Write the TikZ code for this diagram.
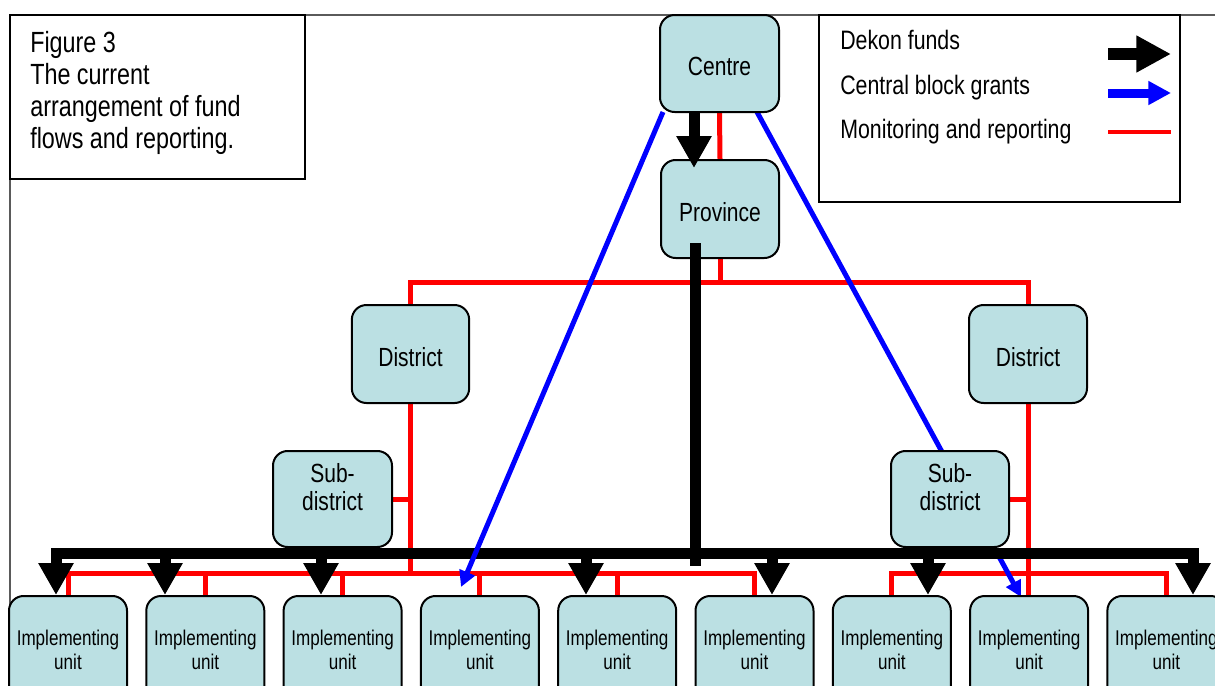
\documentclass[tikz,border=0pt]{standalone}
\usepackage{fontspec}
\setmainfont{Liberation Sans}[FakeStretch=0.8]
\usetikzlibrary{arrows.meta}
\definecolor{boxfill}{RGB}{187,224,227}
\definecolor{framegray}{RGB}{90,90,90}
\begin{document}
\begin{tikzpicture}[x=0.75pt,y=-0.75pt,
  tbox/.style={draw=black, line width=1.5pt, fill=boxfill, rounded corners=11pt,
    inner sep=0pt, align=center, font=\fontsize{19.7}{21}\selectfont},
  onebox/.style={tbox, text height=18.5pt, text depth=0pt},
  ubox/.style={tbox, minimum width=88.5pt, minimum height=81pt,
    font=\fontsize{16}{18}\selectfont},
  mon/.style={draw=red, line width=3.75pt, line join=miter},
  bus/.style={draw=black, line width=8.25pt, line cap=rect},
  dekon/.style={draw=black, line width=8.25pt, -{Triangle[width=25pt,length=24pt]}},
  cbg/.style={draw=blue, line width=3.75pt, -{Triangle[width=12pt,length=12pt]}},
  legtext/.style={anchor=base west, inner sep=0pt, font=\fontsize{20}{22}\selectfont},
  figtext/.style={anchor=base west, inner sep=0pt, font=\fontsize{21.9}{24}\selectfont}
]
\useasboundingbox (0,0) rectangle (1215,686);
\fill[white] (0,0) rectangle (1215,686);

% outer frame
\draw[framegray, line width=1pt] (10,686) -- (10,15) -- (1215,15);

% figure caption box
\node[draw=black, line width=1.2pt, fill=white, minimum width=221.25pt, minimum height=123pt,
  inner sep=0pt] (figbox) at (157.5,97) {};
\node[figtext] (f1) at (30,52) {Figure 3};
\node[figtext] (f2) at (30,84) {The current};
\node[figtext] (f3) at (30,116) {arrangement of fund};
\node[figtext] (f4) at (30,148) {flows and reporting.};

% legend box
\node[draw=black, line width=1.2pt, fill=white, minimum width=270.75pt, minimum height=140.25pt,
  inner sep=0pt] (legbox) at (999.5,108.5) {};
\node[legtext] (l1) at (840,49) {Dekon funds};
\node[legtext] (l2) at (840,94) {Central block grants};
\node[legtext] (l3) at (840,138) {Monitoring and reporting};
\coordinate (ld1) at (1108,54);  \coordinate (ld2) at (1171,54);
\coordinate (lc1) at (1108,93);  \coordinate (lc2) at (1171,93);
\coordinate (lm1) at (1108,132); \coordinate (lm2) at (1171,132);
\draw[black, line width=9pt, -{Triangle[width=26pt,length=26pt]}] (ld1) -- (ld2);
\draw[blue, line width=6.75pt, -{Triangle[width=17pt,length=17pt]}] (lc1) -- (lc2);
\draw[red, line width=3.5pt] (lm1) -- (lm2);

% box positions (named first so connectors can use them)
\path
  (719.5,63.5) node[tbox, minimum width=89.25pt, minimum height=72.75pt, draw=none, fill=none] (centre) {}
  (720,209)   node[tbox, minimum width=88.5pt, minimum height=73.5pt, draw=none, fill=none] (province) {}
  (410.5,354) node[tbox, minimum width=88pt, minimum height=73.5pt, draw=none, fill=none] (distL) {}
  (1028,354)  node[tbox, minimum width=88.5pt, minimum height=73.5pt, draw=none, fill=none] (distR) {}
  (332.5,499) node[tbox, minimum width=89.25pt, minimum height=72pt, draw=none, fill=none] (subL) {}
  (950,499)   node[tbox, minimum width=88.5pt, minimum height=72pt, draw=none, fill=none] (subR) {};
\foreach \i in {1,...,9} {
  \path ({68+137.3*(\i-1)},650) node[ubox, draw=none, fill=none] (u\i) {};
}

% monitoring and reporting (red)
\coordinate (j1) at (720,282);
\coordinate (lbus) at (0,573);
\draw[mon] (centre.south) -- (province.north);
\draw[mon] (province.south) -- (j1);
\draw[mon] (distL.north) |- (j1) -| (distR.north);
\draw[mon] (distL.south) -- (distL.south |- lbus);
\draw[mon] (subL.east) -- (subL.east -| distL.south);
\draw[mon] (u1.north) -- (u1.north |- lbus) -- (u6.north |- lbus) -- (u6.north);
\foreach \k in {2,3,4,5} { \draw[mon] (u\k.north) -- (u\k.north |- lbus); }
\draw[mon] (distR.south) -- (distR.south |- u8.north);
\draw[mon] (subR.east) -- (subR.east -| distR.south);
\draw[mon] (u7.north) -- (u7.north |- lbus) -- (u9.north |- lbus) -- (u9.north);

% central block grant to right side (passes behind sub-district)
\coordinate (b2s) at (757,112);
\coordinate (b2e) at (1021,597);
\draw[cbg] (b2s) -- (b2e);

% boxes
\node[onebox, minimum width=89.25pt, minimum height=72.75pt] (centreB) at (centre) {Centre};
\node[onebox, minimum width=88.5pt, minimum height=73.5pt] (provinceB) at (province) {Province};
\node[onebox, minimum width=88pt, minimum height=73.5pt] (distLB) at (distL) {District};
\node[onebox, minimum width=88.5pt, minimum height=73.5pt] (distRB) at (distR) {District};
\node[tbox, minimum width=89.25pt, minimum height=72pt] (subLB) at (subL) {};
\node[tbox, minimum width=88.5pt, minimum height=72pt] (subRB) at (subR) {};
\node[align=center, inner sep=0pt, font=\fontsize{19.7}{21}\selectfont] (subLT) at (332.5,487) {Sub-\\district};
\node[align=center, inner sep=0pt, font=\fontsize{19.7}{21}\selectfont] (subRT) at (950,487) {Sub-\\district};
\foreach \i in {1,...,9} {
  \node[ubox] (uB\i) at (u\i) {Implementing\\unit};
}

% Dekon funds (black)
\coordinate (cp1) at (694,112);
\coordinate (cp2) at (694,168);
\draw[dekon] (cp1) -- (cp2);
\coordinate (pTop) at (695,248);
\coordinate (pBot) at (695,560);
\coordinate (busW) at (56,553);
\coordinate (busE) at (1193,553);
\draw[bus] (busW) -- (busE);
\draw[bus] (pTop) -- (pBot);
\foreach \x/\u in {56/u1,165/u2,321/u3,586/u5,772/u6,928/u7,1193/u9} {
  \coordinate (t) at (\x,553);
  \draw[dekon] (t) -- (t |- \u.north);
}

% central block grant to left side
\coordinate (b1s) at (663,112);
\coordinate (b1e) at (461,587);
\draw[cbg] (b1s) -- (b1e);
\end{tikzpicture}
\end{document}
